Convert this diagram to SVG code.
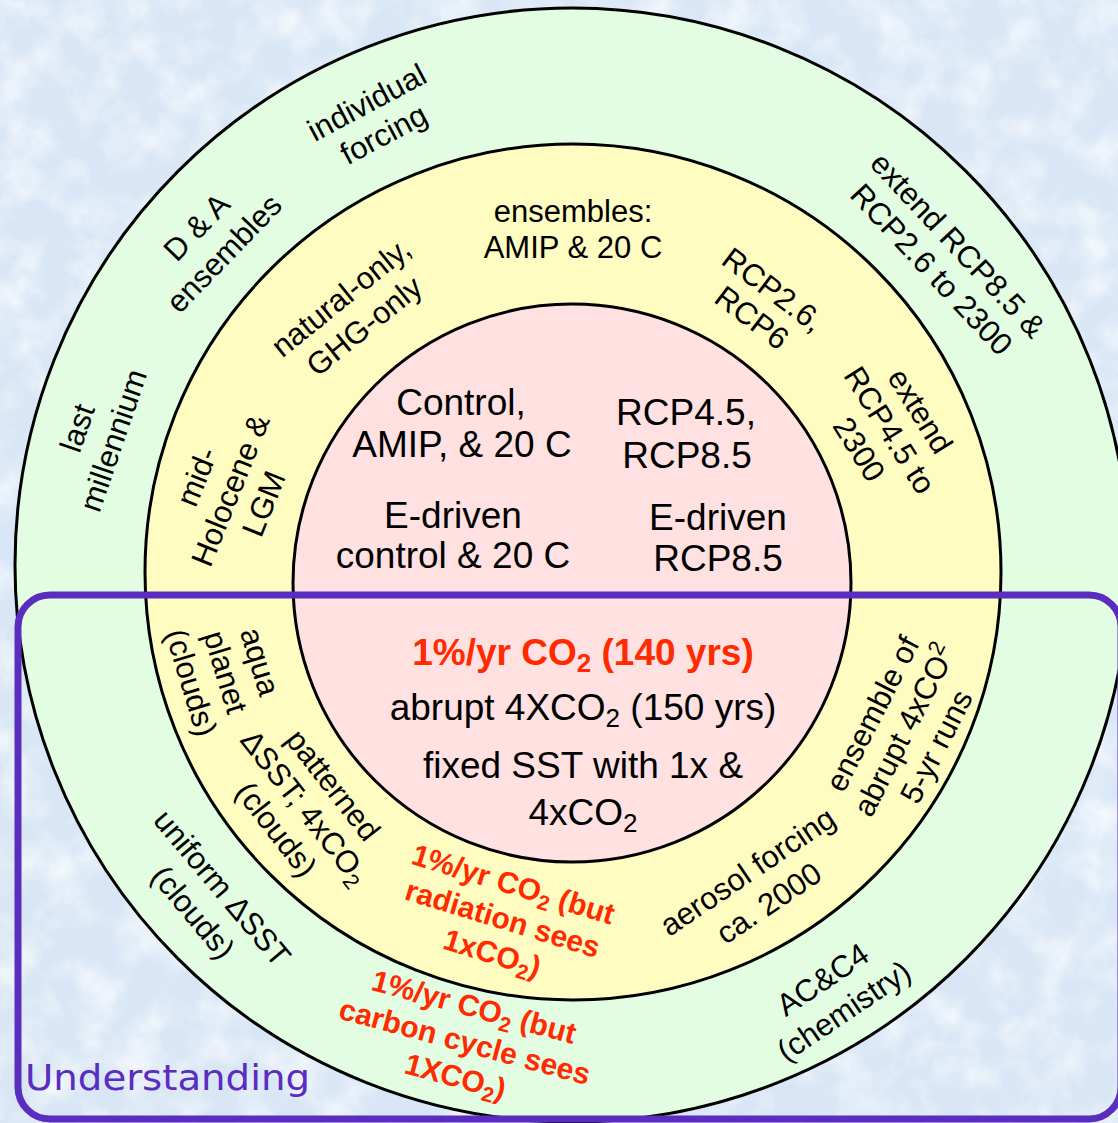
<svg xmlns="http://www.w3.org/2000/svg" width="1118" height="1123" viewBox="0 0 1118 1123">
  <defs>
    <filter id="mottle" x="0" y="0" width="100%" height="100%">
      <feTurbulence type="fractalNoise" baseFrequency="0.025" numOctaves="4" seed="7"/>
      <feColorMatrix type="matrix" values="0 0 0 0 1  0 0 0 0 1  0 0 0 0 1  1.5 0 0 0 -0.6"/>
    </filter>
    <style>
      .ring { stroke: #000; stroke-width: 3; }
      .t { font-family: "Liberation Sans", Arial, sans-serif; font-size: 31px; fill: #000; text-anchor: middle; }
      .in { font-size: 37px; }
      .red { fill: #ff2a00; font-weight: bold; font-size: 30px; }
      .frame { fill: none; stroke: #5a2cc0; stroke-width: 7; }
    </style>
  </defs>

  <!-- textured light-blue backdrop -->
  <rect width="1118" height="1123" fill="#d8e6f5"/>
  <rect width="1118" height="1123" filter="url(#mottle)"/>

  <!-- concentric experiment tiers -->
  <g id="tier-outer"><circle class="ring" cx="572" cy="565" r="557" fill="#e3fde2"/></g>
  <g id="tier-middle"><circle class="ring" cx="573" cy="572" r="428" fill="#fffcc2"/></g>
  <g id="tier-core"><circle class="ring" cx="572" cy="583" r="279" fill="#ffe1e2"/></g>

  <!-- core experiments -->
  <g id="core-control" class="t in">
    <text x="461" y="415">Control,</text>
    <text x="462" y="457">AMIP, &amp; 20 C</text>
  </g>
  <g id="core-rcp" class="t in">
    <text x="686" y="425">RCP4.5,</text>
    <text x="687" y="468">RCP8.5</text>
  </g>
  <g id="core-edriven-control" class="t in">
    <text x="453" y="528">E-driven</text>
    <text x="453" y="568">control &amp; 20 C</text>
  </g>
  <g id="core-edriven-rcp" class="t in">
    <text x="718" y="530">E-driven</text>
    <text x="718" y="571">RCP8.5</text>
  </g>
  <g id="core-1pct" class="t in">
    <text x="583" y="665" class="red" style="font-size:37px">1%/yr CO<tspan dy="7" font-size="26">2</tspan><tspan dy="-7"> (140 yrs)</tspan></text>
  </g>
  <g id="core-abrupt" class="t in">
    <text x="583" y="720">abrupt 4XCO<tspan dy="7" font-size="26">2</tspan><tspan dy="-7"> (150 yrs)</tspan></text>
  </g>
  <g id="core-fixed-sst" class="t in">
    <text x="583" y="778">fixed SST with 1x &amp;</text>
    <text x="583" y="825">4xCO<tspan dy="7" font-size="26">2</tspan></text>
  </g>

  <!-- middle tier -->
  <g id="mid-ensembles" class="t">
    <text x="573" y="222">ensembles:</text>
    <text x="573" y="258">AMIP &amp; 20 C</text>
  </g>
  <g id="mid-natural" class="t" transform="translate(352 311) rotate(-39)">
    <text y="-7">natural-only,</text>
    <text y="30">GHG-only</text>
  </g>
  <g id="mid-paleo" class="t" transform="translate(230 490) rotate(-68)">
    <text y="-25">mid-</text>
    <text y="11">Holocene &amp;</text>
    <text y="47">LGM</text>
  </g>
  <g id="mid-rcp26" class="t" transform="translate(763 303) rotate(37)">
    <text y="-6">RCP2.6,</text>
    <text y="29">RCP6</text>
  </g>
  <g id="mid-extend45" class="t" transform="translate(890 430) rotate(58)">
    <text y="-25">extend</text>
    <text y="11">RCP4.5 to</text>
    <text y="47">2300</text>
  </g>
  <g id="mid-aqua" class="t" transform="translate(226 672) rotate(73)">
    <text y="-25">aqua</text>
    <text y="11">planet</text>
    <text y="47">(clouds)</text>
  </g>
  <g id="mid-patterned" class="t" transform="translate(305 807) rotate(52)">
    <text y="-25">patterned</text>
    <text y="11">ΔSST; 4xCO<tspan dy="6" font-size="22">2</tspan></text>
    <text y="47">(clouds)</text>
  </g>
  <g id="mid-1pct-rad" class="t" transform="translate(503 918) rotate(17)">
    <text class="red" y="-25">1%/yr CO<tspan dy="6" font-size="21">2</tspan><tspan dy="-6"> (but</tspan></text>
    <text class="red" y="11">radiation sees</text>
    <text class="red" y="47">1xCO<tspan dy="6" font-size="21">2</tspan><tspan dy="-6">)</tspan></text>
  </g>
  <g id="mid-aerosol" class="t" transform="translate(758 887) rotate(-34)">
    <text y="-8">aerosol forcing</text>
    <text y="30">ca. 2000</text>
  </g>
  <g id="mid-abrupt-ens" class="t" transform="translate(904 730) rotate(-63)">
    <text y="-25">ensemble of</text>
    <text y="11">abrupt 4xCO<tspan dy="-12" font-size="22">2</tspan></text>
    <text y="47">5-yr runs</text>
  </g>

  <!-- outer tier -->
  <g id="out-individual" class="t" transform="translate(375 118) rotate(-28)">
    <text y="-7">individual</text>
    <text y="29">forcing</text>
  </g>
  <g id="out-da" class="t" transform="translate(210 240) rotate(-46)">
    <text y="-8">D &amp; A</text>
    <text y="30">ensembles</text>
  </g>
  <g id="out-millennium" class="t" transform="translate(95 434) rotate(-71)">
    <text y="-8">last</text>
    <text y="30">millennium</text>
  </g>
  <g id="out-extend" class="t" transform="translate(945 257) rotate(47)">
    <text y="-7">extend RCP8.5 &amp;</text>
    <text y="29">RCP2.6 to 2300</text>
  </g>
  <g id="out-uniform" class="t" transform="translate(208 900) rotate(50)">
    <text y="-8">uniform ΔSST</text>
    <text y="30">(clouds)</text>
  </g>
  <g id="out-1pct-carbon" class="t" transform="translate(465 1041) rotate(15)">
    <text class="red" y="-25">1%/yr CO<tspan dy="6" font-size="21">2</tspan><tspan dy="-6"> (but</tspan></text>
    <text class="red" y="11">carbon cycle sees</text>
    <text class="red" y="47">1XCO<tspan dy="6" font-size="21">2</tspan><tspan dy="-6">)</tspan></text>
  </g>
  <g id="out-chem" class="t" transform="translate(833 995) rotate(-34)">
    <text y="-8">AC&amp;C4</text>
    <text y="30">(chemistry)</text>
  </g>

  <!-- "Understanding" bracket -->
  <g id="understanding">
    <rect class="frame" x="18" y="595" width="1103" height="524" rx="32"/>
    <text x="25" y="1090" font-family="DejaVu Sans, sans-serif" font-size="36" fill="#5a2cc0" textLength="285" lengthAdjust="spacingAndGlyphs">Understanding</text>
  </g>
</svg>
